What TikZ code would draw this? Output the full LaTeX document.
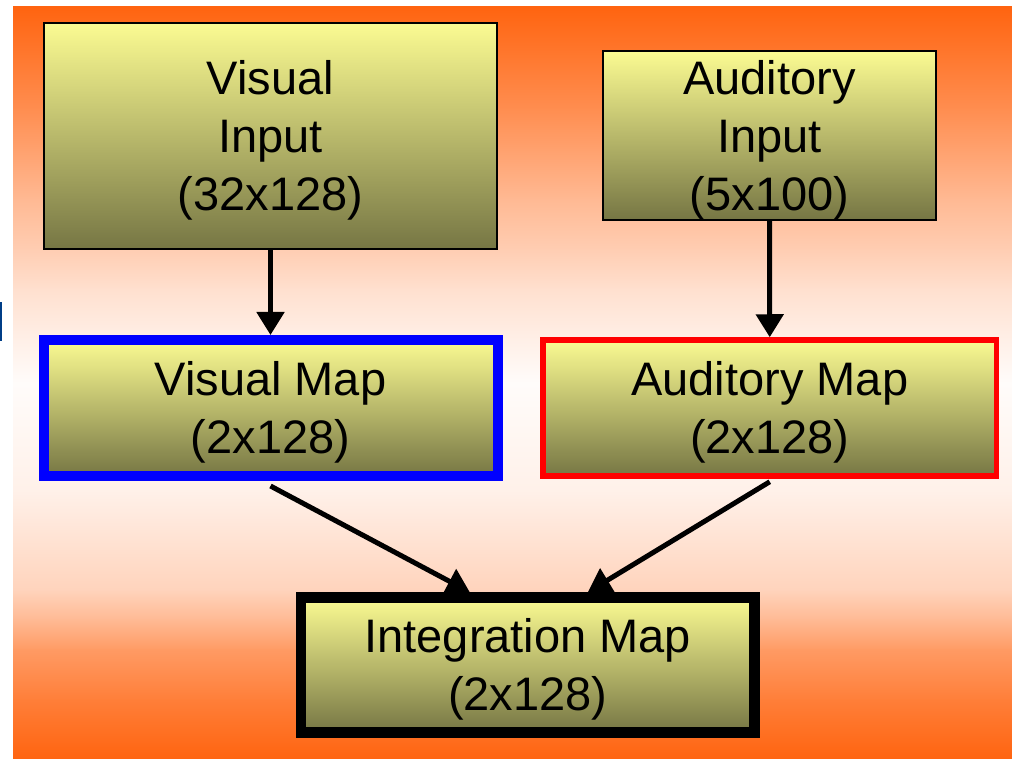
\documentclass[tikz,border=0pt]{standalone}
\usepackage{fontspec}
\setmainfont{Liberation Sans}
\usetikzlibrary{arrows.meta,calc}
\definecolor{bgorange}{RGB}{255,100,16}
\definecolor{boxtop}{RGB}{251,251,146}
\definecolor{boxbot}{RGB}{118,118,68}
\definecolor{navybar}{RGB}{0,62,135}
\newcommand{\toppad}{\rule{0pt}{43pt}}
\tikzset{
  box/.style={rectangle, draw=black, inner sep=0pt, top color=boxtop, bottom color=boxbot,
    align=center, font=\fontsize{47}{58}\selectfont, text=black},
  conn/.style={line width=5pt, -{Triangle[width=27pt,length=23pt]}},
}
\begin{document}
\begin{tikzpicture}[x=1pt,y=-1pt]
\useasboundingbox (0,0) rectangle (1012,759);
\fill[white] (0,0) rectangle (1012,759);
% piecewise background gradient (orange -> white -> orange)
\foreach \ya/\fa/\yb/\fb in {7/0/110/27, 110/27/200/55, 200/55/250/68, 250/68/290/80,
    290/80/340/90, 340/90/383/98, 383/98/490/91, 490/91/590/72, 590/72/620/55,
    620/55/650/35, 650/35/700/17, 700/17/759/0}{
  \shade[top color=white!\fa!bgorange, bottom color=white!\fb!bgorange]
    (13,\ya-0.4) rectangle (1012,\yb+0.4);
}
\fill[navybar] (0,302) rectangle (2,341);

\node[box, line width=2.5pt, minimum width=453pt, minimum height=226pt] (vi) at (270.5,136)
  {\toppad Visual\\Input\\(32x128)};
\node[box, line width=2.5pt, minimum width=333pt, minimum height=165pt] (ai) at (769.5,135.5)
  {\toppad Auditory\\Input\\(5x100)};
\node[box, draw=blue, line width=10pt, minimum width=454pt, minimum height=136pt] (vm) at (270.5,408)
  {\toppad Visual Map\\(2x128)};
\node[box, draw=red, line width=5.5pt, minimum width=453.5pt, minimum height=136pt] (am) at (769.75,408)
  {\toppad Auditory Map\\(2x128)};
\node[box, line width=10.7pt, minimum width=453.7pt, minimum height=135pt] (im) at (527.8,665)
  {\toppad Integration Map\\(2x128)};

\draw[conn] (vi.south) -- (vm.north);
\draw[conn] (ai.south) -- (am.north);
\draw[conn] ([yshift=-5pt]vm.south) -- ([xshift=-58pt]im.north);
\draw[conn] ([yshift=-3pt]am.south) -- ([xshift=60pt]im.north);
\end{tikzpicture}
\end{document}
